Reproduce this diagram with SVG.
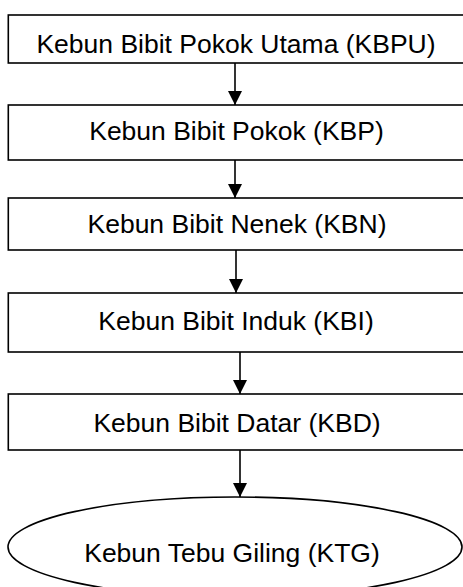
<svg xmlns="http://www.w3.org/2000/svg" width="463" height="587" viewBox="0 0 463 587">
<style>
.box{fill:#fff;stroke:#000;stroke-width:1.6}
.lbl{font-family:"Liberation Sans",Arial,sans-serif;font-size:26.5px;fill:#000;text-anchor:middle}
.conn{stroke:#000;stroke-width:1.6;fill:none}
</style>
<defs>
<marker id="ah" viewBox="0 0 14 17" refX="14" refY="8.5" markerWidth="14" markerHeight="17" markerUnits="userSpaceOnUse" orient="auto">
<path d="M0,1.5 L14,8.5 L0,15.5 Z" fill="#000"/>
</marker>
</defs>
<rect width="463" height="587" fill="#fff"/>
<g id="kbpu"><rect class="box" x="8.3" y="15" width="462" height="48"/><text class="lbl" x="236" y="53">Kebun Bibit Pokok Utama (KBPU)</text></g>
<g id="kbp"><rect class="box" x="8.3" y="105" width="462" height="55"/><text class="lbl" x="236.5" y="140">Kebun Bibit Pokok (KBP)</text></g>
<g id="kbn"><rect class="box" x="8.3" y="198" width="462" height="52"/><text class="lbl" x="237" y="233">Kebun Bibit Nenek (KBN)</text></g>
<g id="kbi"><rect class="box" x="8.3" y="293" width="462" height="59"/><text class="lbl" x="236" y="330">Kebun Bibit Induk (KBI)</text></g>
<g id="kbd"><rect class="box" x="8.3" y="394" width="462" height="56"/><text class="lbl" x="237" y="432">Kebun Bibit Datar (KBD)</text></g>
<g id="ktg"><ellipse class="box" cx="235" cy="547" rx="227" ry="50"/><text class="lbl" x="232" y="562">Kebun Tebu Giling (KTG)</text></g>
<g id="connectors">
<line class="conn" x1="235" y1="63" x2="235" y2="105" marker-end="url(#ah)"/>
<line class="conn" x1="235" y1="160" x2="235" y2="198" marker-end="url(#ah)"/>
<line class="conn" x1="236" y1="250" x2="236" y2="293" marker-end="url(#ah)"/>
<line class="conn" x1="240" y1="352" x2="240" y2="394" marker-end="url(#ah)"/>
<line class="conn" x1="240" y1="450" x2="240" y2="497" marker-end="url(#ah)"/>
</g>
</svg>
